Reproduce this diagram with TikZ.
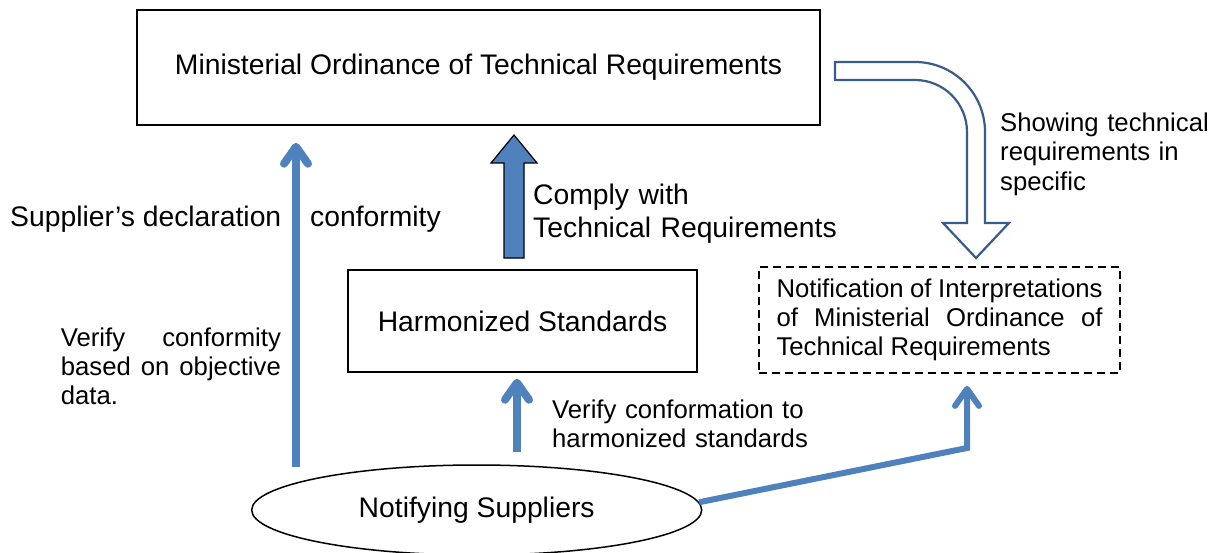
\documentclass[tikz,border=0pt]{standalone}
\usepackage{fontspec}
\setmainfont{Liberation Sans}
\usetikzlibrary{arrows.meta,positioning,shapes.geometric}
\definecolor{Flow}{HTML}{4F81BD}
\definecolor{Deep}{HTML}{385D8A}
\tikzset{
  bigtext/.style={font=\fontsize{28.3}{33}\selectfont},
  smalltext/.style={font=\fontsize{25.7}{29.3}\selectfont},
  rulebox/.style={
    draw,line width=1.5pt,inner sep=0pt,bigtext
  },
  notebox/.style={
    draw,line width=1.8pt,dash pattern=on 8pt off 5pt,
    inner xsep=17.5pt,text width=326pt,align=justify,smalltext
  },
  flow/.style={-{Straight Barb[length=17pt,width=24pt,round]},line width=8pt,draw=Flow},
  txt/.style={inner sep=0pt,anchor=base west,align=left}
}

\begin{document}
\begin{tikzpicture}[x=1pt,y=-1pt]
  \useasboundingbox (0,0) rectangle (1217,553);

  \node[rulebox,minimum width=683pt,minimum height=115pt] (mo) at (478.5,67.5) {
    Ministerial Ordinance of Technical Requirements
  };
  \node[rulebox,minimum width=349pt,minimum height=102pt] (hs) at (522.5,321) {
    Harmonized Standards
  };
  \node[notebox,minimum width=361pt,minimum height=106pt] (ni) at (939.5,320) {
    Notification of Interpretations\linebreak of Ministerial Ordinance of\linebreak Technical Requirements
  };
  \node[ellipse,draw,line width=1.5pt,inner sep=0pt,minimum width=450pt,minimum height=90pt,bigtext] (ns) at (476.7,510) {
    Notifying Suppliers
  };

  % texts
  \node[txt,bigtext] (sd) at (10,226.7) {Supplier’s declaration};
  \node[txt,bigtext] (cf) at (310,226.7) {conformity};
  \node[txt,smalltext,text width=220pt,align=justify] (vc) at (60.7,346) {
    Verify conformity\linebreak based on objective\linebreak data.
  };
  \node[txt,bigtext,text width=320pt] (ct) at (533,205) {Comply with\\Technical Requirements};
  \node[txt,smalltext,text width=270pt] (vh) at (552,418) {Verify conformation to\\harmonized standards};
  \node[txt,smalltext,text width=215pt] (st) at (1000,131.7) {Showing technical\\requirements in\\specific};

  % blue connectors
  \coordinate (sdbase) at (296,467);
  \coordinate (vhbase) at (517,452);
  \coordinate (bend) at (967,448);
  \draw[flow,shorten >=17pt] (sdbase) -- (sdbase |- mo.south);
  \draw[flow,shorten >=6pt] (vhbase) -- (vhbase |- hs.south);
  \draw[flow,line width=6pt,shorten >=12pt] (ns.2) -- (bend) -- (bend |- ni.south);

  % block arrow up
  \draw[fill=Flow,line width=1.2pt] (504,258) -- (504,163) -- (491,163) -- (514,135)
    -- (537,163) -- (524,163) -- (524,258) -- cycle;

  % hollow bent arrow
  \draw[Deep,line width=2.2pt,fill=white] (835,62) -- (915,62)
    arc[start angle=90,end angle=0,radius=70pt] -- (985,223) -- (1009,223) -- (976,258)
    -- (943,223) -- (967,223) -- (967,132)
    arc[start angle=0,end angle=90,radius=52pt] -- (835,80) -- cycle;
\end{tikzpicture}
\end{document}
